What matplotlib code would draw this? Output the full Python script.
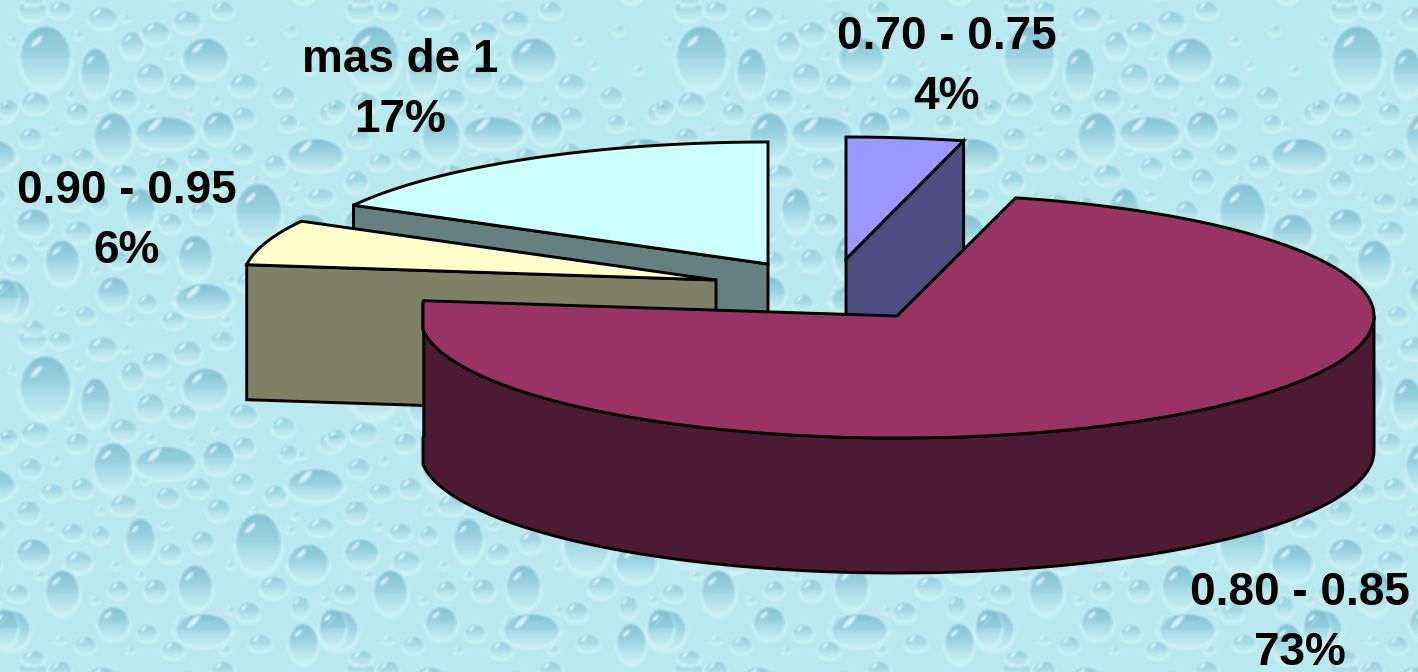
import numpy as np
import matplotlib
matplotlib.use('Agg')
from matplotlib import pyplot as plt
from matplotlib.patches import Polygon

# data
categorias = ['0.70 - 0.75', '0.80 - 0.85', '0.90 - 0.95', 'mas de 1']
valores = [4, 73, 6, 17]

# one entry per slice, same order as categorias
color_top = ['#9999FF', '#993366', '#FFFFCC', '#CCFFFF']
color_side = ['#4D4D80', '#4D1A33', '#808066', '#668080']
apex = [(846, 259), (897, 316), (716, 280), (768, 264)]
rx_slice = [473, 477, 473, 473]
label_pos = [(947, 67), (1300, 623), (127, 221), (400, 90)]
draw_order = [3, 2, 0, 1]

ry = 122
depth = 135
big_left = 423

# drops of the background tile: cx, cy, rx, ry in tile pixels
tile_w, tile_h = 328, 330
drops_big = [
    (45, 57, 22, 28), (95, 72, 13, 22), (205, 58, 20, 18), (113, 137, 17, 22),
    (165, 133, 27, 15), (218, 128, 14, 15), (315, 155, 25, 15), (258, 213, 20, 27),
    (308, 233, 18, 17), (140, 210, 13, 20), (33, 223, 15, 13), (62, 262, 15, 20),
    (195, 257, 15, 20), (203, 300, 25, 15), (10, 300, 17, 18), (113, 293, 14, 15),
    (303, 313, 13, 18), (4, 297, 12, 17),
]
drops_mid = [
    (32, 10, 12, 10), (60, 10, 10, 8), (102, 18, 13, 10), (132, 45, 10, 12),
    (155, 33, 12, 10), (187, 22, 12, 10), (222, 10, 10, 8), (150, 77, 12, 12),
    (182, 85, 12, 10), (243, 85, 12, 10), (283, 97, 10, 9), (2, 113, 10, 9),
    (35, 103, 12, 10), (77, 113, 10, 9), (123, 100, 12, 10), (8, 108, 8, 8),
    (30, 138, 10, 9), (52, 162, 10, 8), (82, 158, 10, 9), (123, 175, 12, 9),
    (167, 167, 10, 9), (198, 158, 10, 9), (242, 153, 10, 9), (275, 165, 10, 9),
    (243, 117, 10, 9), (288, 123, 8, 8), (28, 182, 10, 10), (218, 180, 10, 10),
    (72, 202, 10, 8), (100, 205, 8, 8), (78, 232, 12, 10), (170, 223, 10, 9),
    (202, 212, 10, 10), (17, 263, 10, 8), (118, 260, 9, 8), (155, 260, 10, 10),
    (273, 257, 12, 10), (300, 277, 8, 10), (248, 282, 10, 9), (147, 303, 9, 8),
    (173, 320, 10, 8), (85, 315, 9, 8), (33, 328, 10, 7), (260, 313, 10, 8),
    (320, 197, 12, 8),
]
drops_small = [
    (12, 40, 4, 4), (78, 35, 4, 4), (125, 18, 4, 4), (170, 55, 4, 4), (250, 40, 5, 4),
    (290, 30, 5, 5), (310, 70, 5, 4), (265, 65, 4, 4), (70, 95, 4, 4), (100, 118, 4, 4),
    (150, 108, 5, 4), (190, 110, 4, 4), (215, 100, 4, 4), (300, 125, 5, 4), (55, 130, 4, 4),
    (10, 160, 4, 4), (100, 180, 4, 4), (145, 150, 4, 4), (255, 180, 5, 4), (295, 185, 4, 4),
    (50, 195, 4, 4), (165, 195, 5, 4), (115, 235, 4, 4), (140, 245, 4, 4), (230, 235, 4, 4),
    (290, 200, 4, 4), (40, 245, 5, 4), (95, 270, 4, 4), (230, 280, 4, 4), (60, 310, 5, 4),
    (130, 320, 4, 4), (225, 320, 5, 4), (325, 270, 4, 4), (20, 215, 4, 4), (180, 290, 4, 4),
]


def make_background():
    yy, xx = np.mgrid[0:tile_h, 0:tile_w]
    img = np.ones((tile_h, tile_w, 3)) * np.array([185, 232, 239]) / 255
    dark = np.array([118, 186, 205]) / 255
    light = np.array([210, 245, 248]) / 255
    for group, strength, grow in [(drops_small, 0.4, 1.3), (drops_mid, 0.6, 1.2), (drops_big, 0.85, 1.15)]:
        for cx, cy, rx, r_y in group:
            rx, r_y = rx * grow, r_y * grow
            dx = (xx - cx + tile_w / 2) % tile_w - tile_w / 2
            dy = (yy - cy + tile_h / 2) % tile_h - tile_h / 2
            d = (dx / rx) ** 2 + (dy / r_y) ** 2
            # light rim around the drop, stronger below
            rim = np.clip((1.5 - d) / 0.5, 0, 1) * (0.3 + 0.5 * (dy > 0))
            img += (light - img) * rim[..., None]
            mask = np.clip((1 - d) * min(rx, r_y) / 4, 0, 1)
            t = np.clip((dy + r_y) / (2 * r_y), 0, 1)
            a = mask * (1 - t) ** 0.9 * strength
            img += (dark - img) * a[..., None]
            # glint top left, running up to the right
            across = (dx + 0.35 * rx) + (dy + 0.5 * r_y)
            along = (dx + 0.35 * rx) - (dy + 0.5 * r_y)
            g = 1 - (across / (0.13 * rx + 1)) ** 2 - (along / (0.45 * rx + 1.5)) ** 2
            g = np.clip(g * 1.5, 0, 1) * 0.8
            img += (np.array([0.92, 0.98, 0.99]) - img) * g[..., None]
    # the texture is soft in the picture
    for _ in range(2):
        img = (img + np.roll(img, 1, 0) + np.roll(img, -1, 0) + np.roll(img, 1, 1) + np.roll(img, -1, 1)) / 5
    ny = 672 // tile_h + 2
    nx = 1418 // tile_w + 2
    full = np.tile(img, (ny, nx, 1))
    # the tile starts at y=330 in the picture
    full = full[tile_h - 330 % tile_h:, :, :]
    return np.clip(full[:672, :1418], 0, 1)


def rim_points(c, rx, t0, t1, left=None):
    # angles in degrees, clockwise from the top
    t = np.radians(np.linspace(t0, t1, max(int(abs(t1 - t0) * 1.5), 2)))
    x = c[0] + rx * np.sin(t)
    if left is not None:
        x = np.maximum(x, left)
    return np.column_stack([x, c[1] - ry * np.cos(t)])


plt.rcParams['font.family'] = ['Liberation Sans', 'DejaVu Sans']
fig = plt.figure(figsize=(14.18, 6.72), dpi=100)
ax = fig.add_axes([0, 0, 1, 1])
ax.imshow(make_background(), extent=(0, 1418, 672, 0), interpolation='bilinear', zorder=0)
ax.set_xlim(0, 1418)
ax.set_ylim(672, 0)
ax.axis('off')

# start and end angle of each slice
limites = np.cumsum([0] + valores) / sum(valores) * 360
edge = dict(edgecolor='black', linewidth=2.1, joinstyle='miter')

z = 2
for i in draw_order:
    t0, t1 = limites[i], limites[i + 1]
    c = np.array(apex[i], dtype=float)
    rx = rx_slice[i]
    down = np.array([0, depth])
    if valores[i] == max(valores):
        # big slice: only the outside wall shows
        rim = rim_points(c, rx, t0, t1, big_left)
        front = rim_points(c, rx, 90, t1, big_left)
        wall = np.vstack([front, (front + down)[::-1]])
        ax.add_patch(Polygon(wall, closed=True, facecolor=color_side[i], zorder=z, **edge))
    else:
        # exploded slices show one cut face, the one toward the viewer
        rim = rim_points(c, rx, t0, t1)
        end = rim[0] if t0 > 180 else rim[-1]
        face = np.array([end, c, c + down, end + down])
        ax.add_patch(Polygon(face, closed=True, facecolor=color_side[i], zorder=z, **edge))
    top = np.vstack([[c], rim])
    ax.add_patch(Polygon(top, closed=True, facecolor=color_top[i], zorder=z + 1, **edge))
    z += 2

for cat, val, pos in zip(categorias, valores, label_pos):
    ax.text(pos[0], pos[1], f'{cat}\n{val}%', ha='center', va='center', fontsize=33,
            fontweight='bold', color='black', linespacing=1.46, zorder=20)

fig.savefig('out.png', dpi=100)
